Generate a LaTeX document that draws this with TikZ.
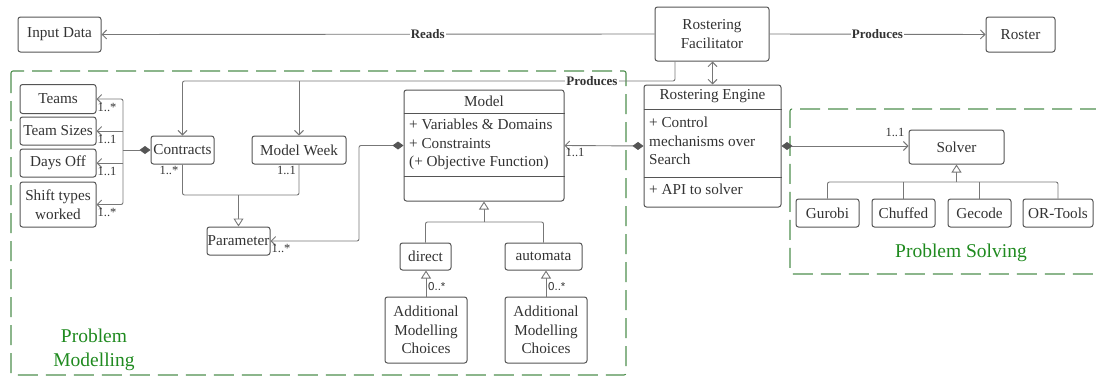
\documentclass[tikz,border=0pt]{standalone}
\usepackage{fontspec}
\setmainfont{Liberation Serif}
\newfontfamily\multsans{Liberation Sans}
\usetikzlibrary{arrows.meta}

\definecolor{boxline}{HTML}{555555}
\definecolor{ink}{HTML}{333333}
\definecolor{wirec}{HTML}{777777}
\definecolor{knob}{HTML}{555555}
\definecolor{zonec}{HTML}{4E8F4E}
\definecolor{zonetext}{HTML}{1F8A1F}

\tikzset{
  cls/.style={draw=boxline, line width=1pt, rounded corners=2.5pt, fill=white,
    text=ink, inner sep=0pt, align=center,
    font=\fontsize{15.2}{18.5}\selectfont},
  txt/.style={text=ink, inner sep=0pt, font=\fontsize{15.2}{18.5}\selectfont},
  sep/.style={draw=boxline, line width=1pt},
  wire/.style={draw=wirec, line width=0.9pt},
  barb/.style={-{Straight Barb[length=4.5pt,width=9pt]}},
  dbarb/.style={{Straight Barb[length=4.5pt,width=9pt]}-{Straight Barb[length=4.5pt,width=9pt]}},
  dia/.style={{Diamond[length=11pt,width=8pt,color=knob]}-},
  diabarb/.style={{Diamond[length=11pt,width=8pt,color=knob]}-{Straight Barb[length=4.5pt,width=9pt]}},
  tri/.style={-{Triangle[length=8pt,width=10pt,fill=white]}},
  mult/.style={text=ink, inner sep=1pt, font=\fontsize{12.5}{14}\selectfont},
  smult/.style={text=ink, inner sep=1pt, font=\multsans\fontsize{11.5}{13}\selectfont},
  verb/.style={fill=white, inner sep=1pt, text=ink, font=\bfseries\fontsize{13}{15}\selectfont},
  zone/.style={draw=zonec, line width=1.1pt, dash pattern=on 20pt off 8pt, rounded corners=2pt},
  zonelabel/.style={text=zonetext, inner sep=0pt, align=center,
    font=\fontsize{19.5}{24}\selectfont},
}

\begin{document}
\begin{tikzpicture}[x=1pt,y=-1pt]
\useasboundingbox (0,0) rectangle (1096,378);

% dashed package frames
\draw[zone] (11,71) rectangle (626,375);
\draw[zone] (1100,109) -- (790,109) -- (790,274) -- (1100,274);
\node[zonelabel] (pmlabel) at (94,350) {Problem\\Modelling};
\node[zonelabel] (pslabel) at (961,253) {Problem Solving};

% top row
\node[cls, minimum width=83pt, minimum height=35pt] (inp) at (59.5,34.5) {Input Data};
\node[cls, minimum width=114pt, minimum height=54pt] (fac) at (712,34) {Rostering\\Facilitator};
\node[cls, minimum width=69pt, minimum height=35pt] (roster) at (1020.5,34.5) {Roster};

% contract details
\node[cls, minimum width=76pt, minimum height=29pt] (teams) at (58,99) {Teams};
\node[cls, minimum width=76pt, minimum height=28pt] (sizes) at (58,131) {Team Sizes};
\node[cls, minimum width=76pt, minimum height=28pt] (daysoff) at (58,163) {Days Off};
\node[cls, minimum width=76pt, minimum height=45pt] (shifts) at (58,204.5) {Shift types\\worked};

\node[cls, minimum width=63pt, minimum height=28pt] (contracts) at (182.5,150) {Contracts};
\node[cls, minimum width=94pt, minimum height=28pt] (week) at (299,150) {Model Week};
\node[cls, minimum width=63pt, minimum height=28pt] (param) at (238.5,241) {Parameter};

% Model class
\node[cls, minimum width=160pt, minimum height=111pt] (model) at (484,145.5) {};
\draw[sep] (model.west |- 0,113) -- (model.east |- 0,113);
\draw[sep] (model.west |- 0,176) -- (model.east |- 0,176);
\node[txt, anchor=base] (modeltitle) at (484,106) {Model};
\node[txt, anchor=base west] (mattr1) at (409,129.5) {+ Variables \& Domains};
\node[txt, anchor=base west] (mattr2) at (409,148) {+ Constraints};
\node[txt, anchor=base west] (mattr3) at (409,166.5) {(+ Objective Function)};

% Rostering Engine class
\node[cls, minimum width=137pt, minimum height=122pt] (engine) at (712.5,146) {};
\draw[sep] (engine.west |- 0,109) -- (engine.east |- 0,109);
\draw[sep] (engine.west |- 0,177) -- (engine.east |- 0,177);
\node[txt, anchor=base] (enginetitle) at (712.5,99.5) {Rostering Engine};
\node[txt, anchor=base west] (eattr1) at (649,127.5) {+ Control};
\node[txt, anchor=base west] (eattr2) at (649,146) {mechanisms over};
\node[txt, anchor=base west] (eattr3) at (649,164.5) {Search};
\node[txt, anchor=base west] (eop1) at (649,194.5) {+ API to solver};

% model variants
\node[cls, minimum width=51pt, minimum height=27pt] (direct) at (425.5,256.5) {direct};
\node[cls, minimum width=77pt, minimum height=27pt] (automata) at (543.5,256.5) {automata};
\node[cls, minimum width=82pt, minimum height=66pt] (amc1) at (426,330) {Additional\\Modelling\\Choices};
\node[cls, minimum width=82pt, minimum height=66pt] (amc2) at (546,330) {Additional\\Modelling\\Choices};

% solvers
\node[cls, minimum width=95pt, minimum height=34pt] (solver) at (956.5,147) {Solver};
\node[cls, minimum width=63pt, minimum height=28pt] (gurobi) at (827.5,213) {Gurobi};
\node[cls, minimum width=63pt, minimum height=28pt] (chuffed) at (903.5,213) {Chuffed};
\node[cls, minimum width=63pt, minimum height=28pt] (gecode) at (979.5,213) {Gecode};
\node[cls, minimum width=70pt, minimum height=28pt] (ortools) at (1058,213) {OR-Tools};

% facilitator relations
\draw[wire, barb] (fac.west) -- node[verb, pos=0.41] (readslbl) {Reads} (inp.east);
\draw[wire, barb] (fac.east) -- node[verb] (outlbl) {Produces} (roster.west);
\draw[wire, dbarb] (engine.north |- fac.south) -- (engine.north);

\coordinate (prodrail) at (675,81);
\draw[wire, barb, rounded corners=2pt] (fac.south -| prodrail) -- (prodrail) -| (contracts.north);
\draw[wire, barb] (prodrail -| week.north) -- (week.north);
\node[verb] (prodlbl) at (592,81) {Produces};

% contract composition
\coordinate (cbus) at (123,150);
\draw[wire, dia] (contracts.west) -- (cbus);
\draw[wire, barb, rounded corners=2pt] (cbus) |- (teams.east);
\draw[wire, barb] (cbus |- sizes.east) -- (sizes.east);
\draw[wire, barb] (cbus |- daysoff.east) -- (daysoff.east);
\draw[wire, barb, rounded corners=2pt] (cbus) |- (shifts.east);
\node[mult, anchor=north west] (mteams) at ([yshift=-3pt]teams.east) {1..*};
\node[mult, anchor=north west] (msizes) at ([yshift=-3pt]sizes.east) {1..1};
\node[mult, anchor=north west] (mdays) at ([yshift=-3pt]daysoff.east) {1..1};
\node[mult, anchor=north west] (mshifts) at ([yshift=-3pt]shifts.east) {1..*};

% parameter generalisation
\coordinate (pjoin) at (238.5,195);
\draw[wire, rounded corners=2pt] (contracts.south) |- (week.south |- pjoin) -- (week.south);
\draw[wire, tri] (pjoin) -- (param.north);
\node[mult, anchor=north east] (mcontracts) at ([xshift=-3pt,yshift=-1pt]contracts.south) {1..*};
\node[mult, anchor=north east] (mweek) at ([xshift=-2pt,yshift=-1pt]week.south) {1..1};

% model aggregates parameters
\coordinate (pturn) at (359,145.5);
\draw[wire, diabarb, rounded corners=2pt] (model.west) -- (pturn) |- (param.east);
\node[mult, anchor=north west] (mparam) at ([yshift=-2pt]param.east) {1..*};

% engine relations
\draw[wire, diabarb] (engine.west) -- (model.east);
\node[mult, anchor=north west] (mmodel) at ([yshift=-2pt]model.east) {1..1};
\draw[wire, diabarb] (engine.east) -- (engine.east -| solver.west);
\node[mult, anchor=south east] (msolver) at ([xshift=-3pt,yshift=9pt]solver.west) {1..1};

% solver generalisation
\coordinate (sbus) at (956.5,182);
\draw[wire, rounded corners=2pt] (gurobi.north) |- (ortools.north |- sbus) -- (ortools.north);
\draw[wire] (chuffed.north) -- (chuffed.north |- sbus);
\draw[wire] (gecode.north) -- (gecode.north |- sbus);
\draw[wire, tri] (sbus) -- (solver.south);

% model generalisation
\coordinate (mbus) at (484,222);
\draw[wire, rounded corners=2pt] (direct.north) |- (automata.north |- mbus) -- (automata.north);
\draw[wire, tri] (mbus) -- (model.south);

% additional choices
\draw[wire, tri] (amc1.north) -- (amc1.north |- direct.south);
\draw[wire, tri] (amc2.north) -- (amc2.north |- automata.south);
\node[smult, anchor=west] (mamc1) at ([xshift=1pt,yshift=10pt]amc1.north) {0..*};
\node[smult, anchor=west] (mamc2) at ([xshift=1pt,yshift=10pt]amc2.north) {0..*};
\end{tikzpicture}
\end{document}
